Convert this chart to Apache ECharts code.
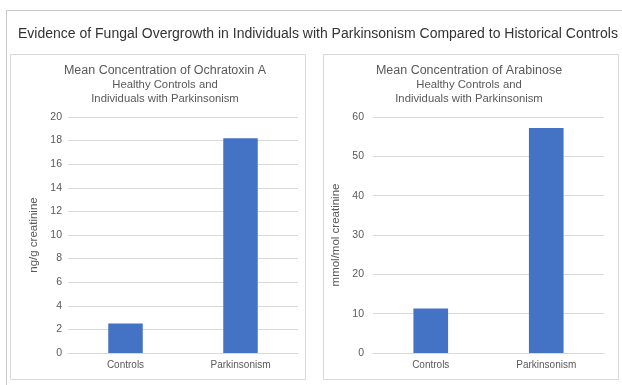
<!DOCTYPE html>
<html>
<head>
<meta charset="utf-8">
<script src="https://cdn.jsdelivr.net/npm/echarts@6/dist/echarts.min.js"></script>
<style>
  html, body { margin: 0; padding: 0; background: #fff; }
  #chart { width: 622px; height: 385px; }
</style>
</head>
<body>
<div id="chart"></div>
<script>
const categories = ['Controls', 'Parkinsonism']
const ochratoxinValues = [2.5, 18.2]
const arabinoseValues = [11.3, 57.2]

const BAR_COLOR = '#4472C4'
const TEXT_COLOR = '#595959'
const GRID_COLOR = '#d9d9d9'
const FONT = '"Liberation Sans", Arial, sans-serif'

const chart = echarts.init(document.getElementById('chart'))

const subText = 'Healthy Controls and\nIndividuals with Parkinsonism'

const panelTitle = (text, center) => ({
  text: text,
  subtext: subText,
  left: center, top: 64, textAlign: 'center', itemGap: 1, padding: 0,
  textStyle: { color: TEXT_COLOR, fontSize: 12.5, fontWeight: 'normal', fontFamily: FONT },
  subtextStyle: { color: TEXT_COLOR, fontSize: 11.3, lineHeight: 14, fontFamily: FONT }
})

const option = {
  textStyle: { fontFamily: FONT },
  graphic: [
    // outer frame
    { type: 'rect', shape: { x: 6.5, y: 10.5, width: 640, height: 400 }, style: { fill: 'none', stroke: '#c8c8c8', lineWidth: 1 }, silent: true },
    // panel frames
    { type: 'rect', shape: { x: 10.5, y: 54.5, width: 295, height: 325 }, style: { fill: 'none', stroke: '#d9d9d9', lineWidth: 1 }, silent: true },
    { type: 'rect', shape: { x: 323.5, y: 54.5, width: 295, height: 325 }, style: { fill: 'none', stroke: '#d9d9d9', lineWidth: 1 }, silent: true }
  ],
  title: [
    {
      text: 'Evidence of Fungal Overgrowth in Individuals with Parkinsonism Compared to Historical Controls',
      left: 18, top: 27, padding: 0,
      textStyle: { color: '#333', fontSize: 14, fontWeight: 'normal', fontFamily: FONT }
    },
    panelTitle('Mean Concentration of Ochratoxin A', 165),
    panelTitle('Mean Concentration of Arabinose', 469)
  ],
  grid: [
    { left: 68, top: 117, width: 230, height: 236 },
    { left: 373, top: 117, width: 231, height: 236 }
  ],
  xAxis: [0, 1].map(i => ({
    type: 'category',
    gridIndex: i,
    data: categories,
    axisLine: { lineStyle: { color: GRID_COLOR } },
    axisTick: { show: false },
    axisLabel: { color: TEXT_COLOR, fontSize: 10, margin: 7 }
  })),
  yAxis: [
    {
      type: 'value', gridIndex: 0, min: 0, max: 20, interval: 2,
      name: 'ng/g creatinine', nameLocation: 'middle', nameGap: 28,
      nameTextStyle: { color: TEXT_COLOR, fontSize: 11.5 },
      axisLine: { show: false }, axisTick: { show: false },
      axisLabel: { color: TEXT_COLOR, fontSize: 10.5, margin: 6 },
      splitLine: { lineStyle: { color: GRID_COLOR } }
    },
    {
      type: 'value', gridIndex: 1, min: 0, max: 60, interval: 10,
      name: 'mmol/mol creatinine', nameLocation: 'middle', nameGap: 31,
      nameTextStyle: { color: TEXT_COLOR, fontSize: 11.5 },
      axisLine: { show: false }, axisTick: { show: false },
      axisLabel: { color: TEXT_COLOR, fontSize: 10.5, margin: 9 },
      splitLine: { lineStyle: { color: GRID_COLOR } }
    }
  ],
  series: [
    { type: 'bar', xAxisIndex: 0, yAxisIndex: 0, data: ochratoxinValues, barWidth: '30%', itemStyle: { color: BAR_COLOR } },
    { type: 'bar', xAxisIndex: 1, yAxisIndex: 1, data: arabinoseValues, barWidth: '30%', itemStyle: { color: BAR_COLOR } }
  ]
}

chart.setOption(option)
</script>
</body>
</html>
